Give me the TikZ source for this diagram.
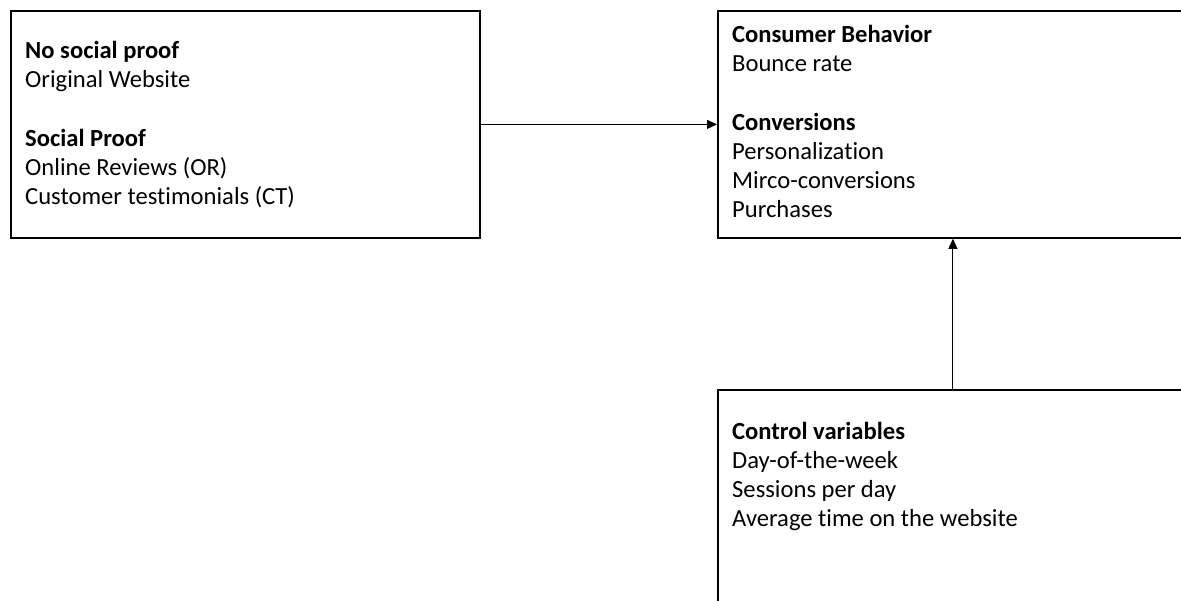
\documentclass[tikz,border=0pt]{standalone}
\usepackage{fontspec}
\setmainfont{Carlito}[Ligatures={NoCommon}]
\usetikzlibrary{arrows.meta}
\begin{document}
\begin{tikzpicture}[x=1pt,y=-1pt,
  box/.style={draw=black,line width=1.8pt,inner sep=0,anchor=north west},
  txt/.style={anchor=base west,inner sep=0,font=\fontsize{24.6}{29}\selectfont,text=black},
  bf/.style={txt,font=\fontsize{24.6}{29}\selectfont\bfseries},
  arr/.style={line width=0.9pt,-{Triangle[length=10pt,width=9pt]}}]
\useasboundingbox (0,0) rectangle (1181,601);
\node[box,minimum width=469pt,minimum height=227pt] (src) at (10,10) {};
\node[box,minimum width=470pt,minimum height=227pt] (out) at (717,10) {};
\node[box,minimum width=470pt,minimum height=240pt] (ctrl) at (717,389) {};
% left box text
\node[bf]  (l1) at (25,59)  {No social proof};
\node[txt] (l2) at (25,88)  {Original Website};
\node[bf]  (l3) at (25,147) {Social Proof};
\node[txt] (l4) at (25,176) {Online Reviews (OR)};
\node[txt] (l5) at (25,205) {Customer testimonials (CT)};
% right top text
\node[bf]  (r1) at (732,43)  {Consumer Behavior};
\node[txt] (r2) at (732,72)  {Bounce rate};
\node[bf]  (r3) at (732,131) {Conversions};
\node[txt] (r4) at (732,160) {Personalization};
\node[txt] (r5) at (732,189) {Mirco-conversions};
\node[txt] (r6) at (732,218) {Purchases};
% bottom text
\node[bf]  (c1) at (732,439) {Control variables};
\node[txt] (c2) at (732,468) {Day-of-the-week};
\node[txt] (c3) at (732,497) {Sessions per day};
\node[txt] (c4) at (732,526) {Average time on the website};
% connectors
\draw[arr] (src.east) -- (out.west);
\draw[arr] (ctrl.north) -- (out.south);
\end{tikzpicture}
\end{document}
